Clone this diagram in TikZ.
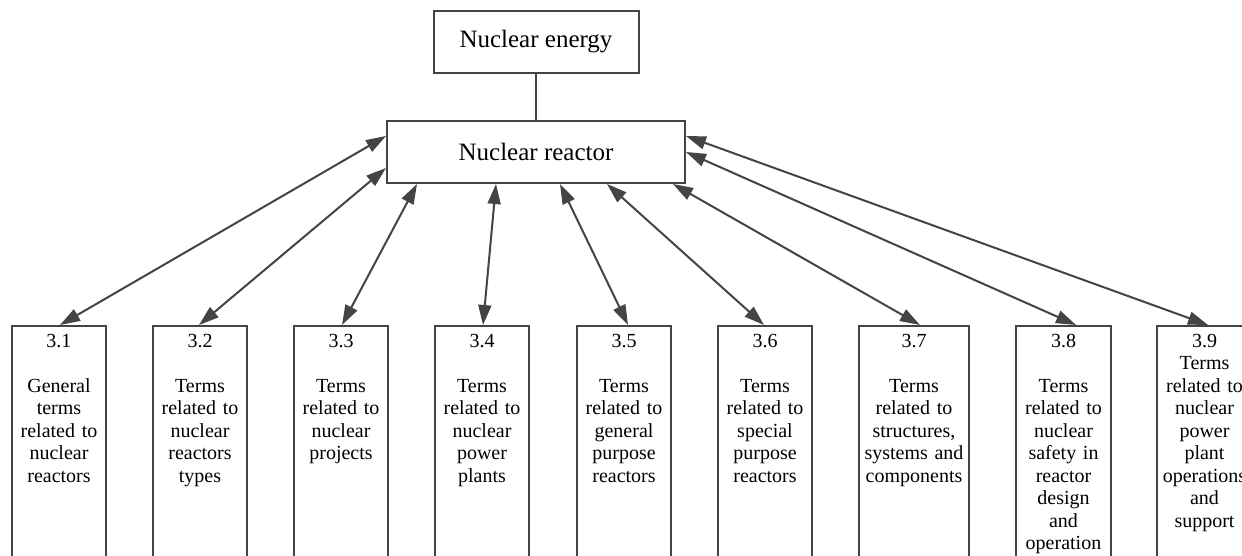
\documentclass[tikz,border=0pt]{standalone}
\usepackage{fontspec}
\setmainfont{Liberation Serif}
\usetikzlibrary{arrows.meta}
\definecolor{ln}{HTML}{444444}
\tikzset{
  topbox/.style={draw=ln, line width=2pt, fill=white, minimum height=62pt, inner sep=0pt, font=\fontsize{25}{30}\selectfont},
  catbox/.style={draw=ln, line width=2pt, minimum height=275pt, anchor=north west, inner sep=0pt},
  cattext/.style={anchor=base, align=center, text width=110pt, inner sep=0pt, font=\fontsize{20}{22.5}\selectfont},
  dbl/.style={draw=ln, line width=2pt, {Triangle[length=20pt,width=13pt]}-{Triangle[length=20pt,width=13pt]}},
  link/.style={draw=ln, line width=2pt}
}
\begin{document}
\begin{tikzpicture}[x=1pt,y=1pt]
\useasboundingbox (0,0) rectangle (1242,-556);
\clip (0,0) rectangle (1242,-556);
\fill[white] (0,0) rectangle (1242,-556);
\node[topbox, minimum width=205pt] (energy) at (536,-42) {Nuclear energy};
\node[topbox, minimum width=298pt] (reactor) at (536,-152) {Nuclear reactor};
\draw[link] (energy) -- (reactor);
\node[catbox, minimum width=94pt] (b1) at (11,-325) {};
\node[catbox, minimum width=94pt] (b2) at (152,-325) {};
\node[catbox, minimum width=94pt] (b3) at (293,-325) {};
\node[catbox, minimum width=94pt] (b4) at (434,-325) {};
\node[catbox, minimum width=94pt] (b5) at (576,-325) {};
\node[catbox, minimum width=94pt] (b6) at (717,-325) {};
\node[catbox, minimum width=110pt] (b7) at (858,-325) {};
\node[catbox, minimum width=95pt] (b8) at (1015,-325) {};
\node[catbox, minimum width=95pt] (b9) at (1156,-325) {};
\node[cattext] (t1) at ([yshift=-22]b1.north) {3.1\\ \mbox{}\\General\\terms\\related to\\nuclear\\reactors};
\node[cattext] (t2) at ([yshift=-22]b2.north) {3.2\\ \mbox{}\\Terms\\related to\\nuclear\\reactors\\types};
\node[cattext] (t3) at ([yshift=-22]b3.north) {3.3\\ \mbox{}\\Terms\\related to\\nuclear\\projects};
\node[cattext] (t4) at ([yshift=-22]b4.north) {3.4\\ \mbox{}\\Terms\\related to\\nuclear\\power\\plants};
\node[cattext] (t5) at ([yshift=-22]b5.north) {3.5\\ \mbox{}\\Terms\\related to\\general\\purpose\\reactors};
\node[cattext] (t6) at ([yshift=-22]b6.north) {3.6\\ \mbox{}\\Terms\\related to\\special\\purpose\\reactors};
\node[cattext] (t7) at ([yshift=-22]b7.north) {3.7\\ \mbox{}\\Terms\\related to\\structures,\\systems and\\components};
\node[cattext] (t8) at ([yshift=-22]b8.north) {3.8\\ \mbox{}\\Terms\\related to\\nuclear\\safety in\\reactor\\design\\and\\operation};
\node[cattext] (t9) at ([yshift=-22]b9.north) {3.9\\Terms\\related to\\nuclear\\power\\plant\\operations\\and\\support};
\draw[dbl] ([yshift=-16]reactor.north west) -- ([xshift=1]b1.north);
\draw[dbl] ([yshift=-48]reactor.north west) -- ([xshift=-1]b2.north);
\draw[dbl] ([xshift=31]reactor.south west) -- ([xshift=1]b3.north);
\draw[dbl] ([xshift=110]reactor.south west) -- ([xshift=1]b4.north);
\draw[dbl] ([xshift=174]reactor.south west) -- ([xshift=4]b5.north);
\draw[dbl] ([xshift=221]reactor.south west) -- ([xshift=-1]b6.north);
\draw[dbl] ([xshift=-13]reactor.south east) -- ([xshift=6]b7.north);
\draw[dbl] ([yshift=-32]reactor.north east) -- ([xshift=12.5]b8.north);
\draw[dbl] ([yshift=-16]reactor.north east) -- ([xshift=3.5]b9.north);
\end{tikzpicture}
\end{document}
